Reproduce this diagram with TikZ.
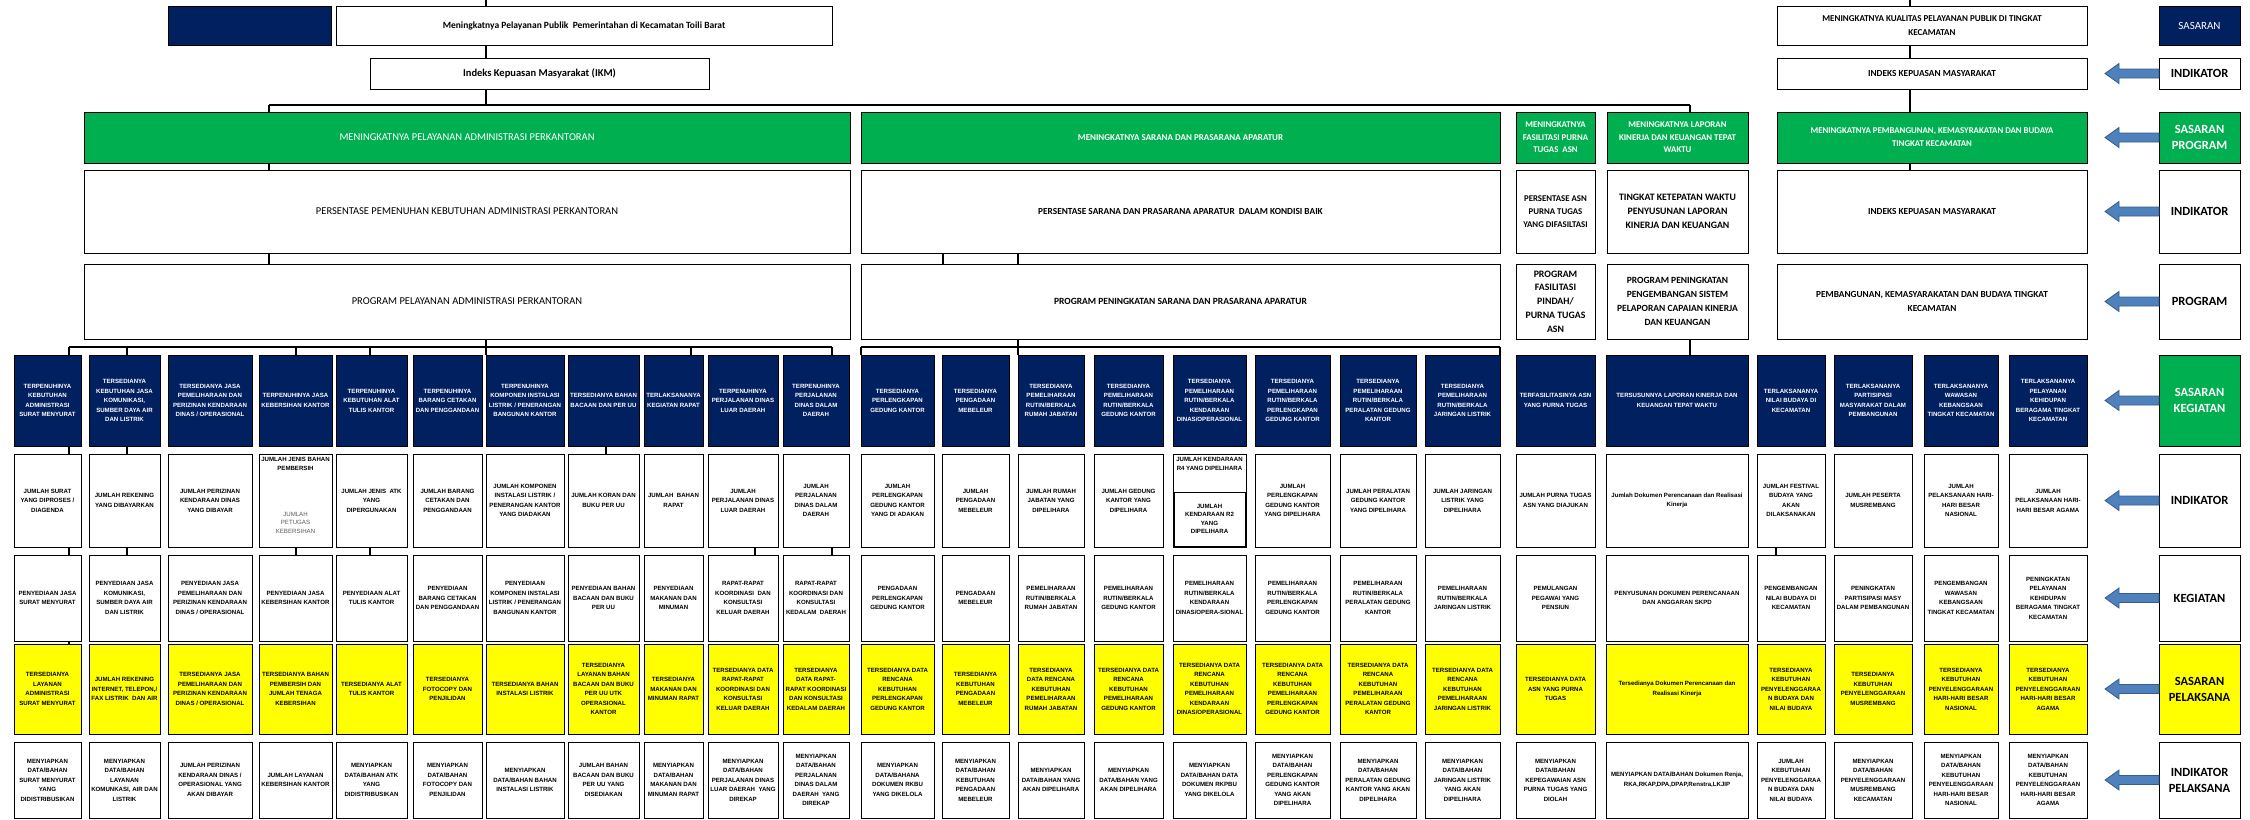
\documentclass[tikz,border=0pt]{standalone}
\usepackage{fontspec}
\setmainfont{Liberation Sans}
\newfontfamily\calf{Carlito}
\usetikzlibrary{calc}
\definecolor{navy}{HTML}{002060}
\definecolor{grn}{HTML}{00B050}
\definecolor{yel}{HTML}{FFFF00}
\definecolor{abl}{HTML}{4F81BD}
\definecolor{abd}{HTML}{385D8A}
\tikzset{
  box/.style={draw=black, line width=0.8pt, inner sep=1pt, outer sep=0pt, align=center, rectangle},
  navyb/.style={box, fill=navy, text=white},
  grnb/.style={box, fill=grn, text=white},
  yelb/.style={box, fill=yel, text=black},
  whb/.style={box, fill=white, text=black},
  lowf/.style={font=\bfseries\fontsize{6.1}{9.5}\selectfont},
  kc/.style={navyb, lowf},
  ic/.style={whb, lowf},
  yc/.style={yelb, lowf},
  legf/.style={font=\calf\bfseries\fontsize{12.5}{16}\selectfont},
  conn/.style={draw=black, line width=1.3pt},
  busst/.style={draw=black, line width=2.2pt},
  arrowst/.style={fill=abl, draw=abd, line width=0.8pt},
}
\newcommand\bx[7]{%
  \pgfmathsetmacro\bxw{#4-#2}\pgfmathsetmacro\bxh{#5-#3}%
  \pgfmathsetmacro\bxx{(#2+#4)/2}\pgfmathsetmacro\bxy{(#3+#5)/2}%
  \node[#6, minimum width=\bxw pt, minimum height=\bxh pt] (#1) at (\bxx,\bxy) {#7};}
\newcommand\defcol[3]{\expandafter\def\csname cl#1\endcsname{#2}\expandafter\def\csname cr#1\endcsname{#3}}
\newcommand\defrow[3]{\expandafter\def\csname rt#1\endcsname{#2}\expandafter\def\csname rb#1\endcsname{#3}}
\newcommand\cell[4]{\bx{#2#1}{\csname cl#1\endcsname}{\csname rt#2\endcsname}{\csname cr#1\endcsname}{\csname rb#2\endcsname}{#3}{#4}}
\newcommand\barrow[1]{\filldraw[arrowst] ([yshift=4.5pt]#1.west) -- ++(-40,0) -- ++(0,-5.5) -- ++(-14,10) -- ++(14,10) -- ++(0,-5.5) -- ([yshift=-4.5pt]#1.west) -- cycle;}
\defcol{1}{14}{81}
\defcol{2}{89}{160}
\defcol{3}{168}{252}
\defcol{4}{259}{332}
\defcol{5}{336}{407}
\defcol{6}{413}{482}
\defcol{7}{486}{564}
\defcol{8}{568}{639}
\defcol{9}{644}{703}
\defcol{10}{708}{778}
\defcol{11}{783}{849}
\defcol{12}{861}{934}
\defcol{13}{942}{1009}
\defcol{14}{1018}{1084}
\defcol{15}{1094}{1163}
\defcol{16}{1173}{1246}
\defcol{17}{1255}{1330}
\defcol{18}{1340}{1416}
\defcol{19}{1425}{1500}
\defcol{20}{1516}{1595}
\defcol{21}{1606}{1748}
\defcol{22}{1757}{1825}
\defcol{23}{1834}{1912}
\defcol{24}{1924}{1998}
\defcol{25}{2009}{2087}
\defrow{K}{355}{446}
\defrow{I}{454}{547}
\defrow{G}{555}{641}
\defrow{S}{644}{734}
\defrow{P}{742}{818}
\begin{document}
\begin{tikzpicture}[x=1pt,y=-1pt]
\useasboundingbox (0,0) rectangle (2250,819);
\fill[white] (0,0) rectangle (2250,819);
% ---------- upper part
\bx{tNavy}{168}{6}{331}{45}{navyb}{}
\bx{tA}{336}{6}{832}{45}{whb,font=\calf\bfseries\fontsize{9.5}{12}\selectfont}{Meningkatnya Pelayanan Publik\ \ Pemerintahan di Kecamatan Toili Barat}
\bx{tIKM}{370}{58}{709}{89}{whb,font=\calf\bfseries\fontsize{10.5}{13}\selectfont}{Indeks Kepuasan Masyarakat (IKM)}
\bx{gA}{84}{112}{850}{163}{grnb,font=\calf\fontsize{10.5}{13}\selectfont}{MENINGKATNYA PELAYANAN ADMINISTRASI PERKANTORAN}
\bx{pA}{84}{170}{850}{253}{whb,font=\calf\fontsize{10.5}{13}\selectfont}{PERSENTASE PEMENUHAN KEBUTUHAN ADMINISTRASI PERKANTORAN}
\bx{qA}{84}{264}{850}{339}{whb,font=\calf\fontsize{10.5}{13}\selectfont}{PROGRAM PELAYANAN ADMINISTRASI PERKANTORAN}
\bx{gB}{861}{112}{1500}{163}{grnb,font=\calf\bfseries\fontsize{9}{13}\selectfont}{MENINGKATNYA SARANA DAN PRASARANA APARATUR}
\bx{pB}{861}{170}{1500}{253}{whb,font=\calf\bfseries\fontsize{9.3}{13}\selectfont}{PERSENTASE SARANA DAN PRASARANA APARATUR\ \ DALAM KONDISI BAIK}
\bx{qB}{861}{264}{1500}{339}{whb,font=\calf\bfseries\fontsize{9.5}{13}\selectfont}{PROGRAM PENINGKATAN SARANA DAN PRASARANA APARATUR}
\bx{gC}{1516}{112}{1595}{163}{grnb,font=\calf\bfseries\fontsize{8.8}{12.5}\selectfont}{MENINGKATNYA\\FASILITASI PURNA\\TUGAS\ \ ASN}
\bx{gD}{1607}{112}{1748}{163}{grnb,font=\calf\bfseries\fontsize{8.8}{12.5}\selectfont}{MENINGKATNYA LAPORAN\\KINERJA DAN KEUANGAN TEPAT\\WAKTU}
\bx{pC}{1516}{170}{1595}{253}{whb,font=\calf\bfseries\fontsize{8.8}{13}\selectfont}{PERSENTASE ASN\\PURNA TUGAS\\YANG DIFASILTASI}
\bx{pD}{1607}{170}{1748}{253}{whb,font=\calf\bfseries\fontsize{9.8}{14}\selectfont}{TINGKAT KETEPATAN WAKTU\\PENYUSUNAN LAPORAN\\KINERJA DAN KEUANGAN}
\bx{qC}{1516}{264}{1595}{339}{whb,font=\calf\bfseries\fontsize{9.8}{13.8}\selectfont}{PROGRAM\\FASILITASI\\PINDAH/\\PURNA TUGAS\\ASN}
\bx{qD}{1607}{264}{1748}{339}{whb,font=\calf\bfseries\fontsize{9.5}{13.8}\selectfont}{PROGRAM PENINGKATAN\\PENGEMBANGAN SISTEM\\PELAPORAN CAPAIAN KINERJA\\DAN KEUANGAN}
\bx{rT}{1777}{6}{2087}{45}{whb,font=\calf\bfseries\fontsize{9}{14}\selectfont}{MENINGKATNYA KUALITAS PELAYANAN PUBLIK DI TINGKAT\\KECAMATAN}
\bx{rI}{1777}{58}{2087}{89}{whb,font=\calf\bfseries\fontsize{9.3}{13}\selectfont}{INDEKS KEPUASAN MASYARAKAT}
\bx{gE}{1777}{112}{2087}{163}{grnb,font=\calf\bfseries\fontsize{8.8}{13}\selectfont}{MENINGKATNYA PEMBANGUNAN, KEMASYRAKATAN DAN BUDAYA\\TINGKAT KECAMATAN}
\bx{pE}{1777}{170}{2087}{253}{whb,font=\calf\bfseries\fontsize{9.3}{13}\selectfont}{INDEKS KEPUASAN MASYARAKAT}
\bx{qE}{1777}{264}{2087}{339}{whb,font=\calf\bfseries\fontsize{9.3}{14}\selectfont}{PEMBANGUNAN, KEMASYARAKATAN DAN BUDAYA TINGKAT\\KECAMATAN}
% ---------- legend
\bx{lg0}{2159}{6}{2240}{45}{navyb,font=\calf\fontsize{11}{13}\selectfont}{SASARAN}
\bx{lg1}{2159}{58}{2240}{89}{whb,legf}{INDIKATOR}
\bx{lg2}{2159}{112}{2240}{163}{grnb,legf}{SASARAN\\PROGRAM}
\bx{lg3}{2159}{170}{2240}{253}{whb,legf}{INDIKATOR}
\bx{lg4}{2159}{264}{2240}{339}{whb,legf}{PROGRAM}
\bx{lg5}{2159}{355}{2240}{446}{grnb,legf}{SASARAN\\KEGIATAN}
\bx{lg6}{2159}{454}{2240}{547}{whb,legf}{INDIKATOR}
\bx{lg7}{2159}{555}{2240}{641}{whb,legf}{KEGIATAN}
\bx{lg8}{2159}{644}{2240}{734}{yelb,legf}{SASARAN\\PELAKSANA}
\bx{lg9}{2159}{742}{2240}{818}{whb,legf}{INDIKATOR\\PELAKSANA}
\foreach \n in {lg1,lg2,lg3,lg4,lg5,lg6,lg7,lg8,lg9} {\barrow{\n}}
% ---------- row K
\cell{1}{K}{kc}{TERPENUHINYA\\KEBUTUHAN\\ADMINISTRASI\\SURAT MENYURAT}
\cell{2}{K}{kc}{TERSEDIANYA\\KEBUTUHAN JASA\\KOMUNIKASI,\\SUMBER DAYA AIR\\DAN LISTRIK}
\cell{3}{K}{kc}{TERSEDIANYA JASA\\PEMELIHARAAN DAN\\PERIZINAN KENDARAAN\\DINAS / OPERASIONAL}
\cell{4}{K}{kc}{TERPENUHINYA JASA\\KEBERSIHAN KANTOR}
\cell{5}{K}{kc}{TERPENUHINYA\\KEBUTUHAN ALAT\\TULIS KANTOR}
\cell{6}{K}{kc}{TERPENUHINYA\\BARANG CETAKAN\\DAN PENGGANDAAN}
\cell{7}{K}{kc}{TERPENUHINYA\\KOMPONEN INSTALASI\\LISTRIK / PENERANGAN\\BANGUNAN KANTOR}
\cell{8}{K}{kc}{TERSEDIANYA BAHAN\\BACAAN DAN PER UU}
\cell{9}{K}{kc}{TERLAKSANANYA\\KEGIATAN RAPAT}
\cell{10}{K}{kc}{TERPENUHINYA\\PERJALANAN DINAS\\LUAR DAERAH}
\cell{11}{K}{kc}{TERPENUHINYA\\PERJALANAN\\DINAS DALAM\\DAERAH}
\cell{12}{K}{kc}{TERSEDIANYA\\PERLENGKAPAN\\GEDUNG KANTOR}
\cell{13}{K}{kc}{TERSEDIANYA\\PENGADAAN\\MEBELEUR}
\cell{14}{K}{kc}{TERSEDIANYA\\PEMELIHARAAN\\RUTIN/BERKALA\\RUMAH JABATAN}
\cell{15}{K}{kc}{TERSEDIANYA\\PEMELIHARAAN\\RUTIN/BERKALA\\GEDUNG KANTOR}
\cell{16}{K}{kc}{TERSEDIANYA\\PEMELIHARAAN\\RUTIN/BERKALA\\KENDARAAN\\DINAS/OPERASIONAL}
\cell{17}{K}{kc}{TERSEDIANYA\\PEMELIHARAAN\\RUTIN/BERKALA\\PERLENGKAPAN\\GEDUNG KANTOR}
\cell{18}{K}{kc}{TERSEDIANYA\\PEMELIHARAAN\\RUTIN/BERKALA\\PERALATAN GEDUNG\\KANTOR}
\cell{19}{K}{kc}{TERSEDIANYA\\PEMELIHARAAN\\RUTIN/BERKALA\\JARINGAN LISTRIK}
\cell{20}{K}{kc}{TERFASILITASINYA ASN\\YANG PURNA TUGAS}
\cell{21}{K}{kc}{TERSUSUNNYA LAPORAN KINERJA DAN\\KEUANGAN TEPAT WAKTU}
\cell{22}{K}{kc}{TERLAKSANANYA\\NILAI BUDAYA DI\\KECAMATAN}
\cell{23}{K}{kc}{TERLAKSANANYA\\PARTISIPASI\\MASYARAKAT DALAM\\PEMBANGUNAN}
\cell{24}{K}{kc}{TERLAKSANANYA\\WAWASAN\\KEBANGSAAN\\TINGKAT KECAMATAN}
\cell{25}{K}{kc}{TERLAKSANANYA\\PELAYANAN\\KEHIDUPAN\\BERAGAMA TINGKAT\\KECAMATAN}
% ---------- row I
\cell{1}{I}{ic}{JUMLAH SURAT\\YANG DIPROSES /\\DIAGENDA}
\cell{2}{I}{ic}{JUMLAH REKENING\\YANG DIBAYARKAN}
\cell{3}{I}{ic}{JUMLAH PERIZINAN\\KENDARAAN DINAS\\YANG DIBAYAR}
\cell{4}{I}{ic}{}
\node[lowf, align=center, anchor=north, inner sep=0pt] (I4a) at ([yshift=-3pt]I4.north) {JUMLAH JENIS BAHAN\\PEMBERSIH};
\node[font=\fontsize{6.1}{8.5}\selectfont, text=black!65, align=center, inner sep=0pt] (I4b) at ([yshift=-22pt]I4.center) {JUMLAH\\PETUGAS\\KEBERSIHAN};
\cell{5}{I}{ic}{JUMLAH JENIS\ \ ATK\\YANG\\DIPERGUNAKAN}
\cell{6}{I}{ic}{JUMLAH BARANG\\CETAKAN DAN\\PENGGANDAAN}
\cell{7}{I}{ic}{JUMLAH KOMPONEN\\INSTALASI LISTRIK /\\PENERANGAN KANTOR\\YANG DIADAKAN}
\cell{8}{I}{ic}{JUMLAH KORAN DAN\\BUKU PER UU}
\cell{9}{I}{ic}{JUMLAH\ \ BAHAN\\RAPAT}
\cell{10}{I}{ic}{JUMLAH\\PERJALANAN DINAS\\LUAR DAERAH}
\cell{11}{I}{ic}{JUMLAH\\PERJALANAN\\DINAS DALAM\\DAERAH}
\cell{12}{I}{ic}{JUMLAH\\PERLENGKAPAN\\GEDUNG KANTOR\\YANG DI ADAKAN}
\cell{13}{I}{ic}{JUMLAH\\PENGADAAN\\MEBELEUR}
\cell{14}{I}{ic}{JUMLAH RUMAH\\JABATAN YANG\\DIPELIHARA}
\cell{15}{I}{ic}{JUMLAH GEDUNG\\KANTOR YANG\\DIPELIHARA}
\cell{16}{I}{ic}{}
\node[lowf, align=center, anchor=north, inner sep=0pt] (I16a) at ([yshift=-3pt]I16.north) {JUMLAH KENDARAAN\\R4 YANG DIPELIHARA};
\bx{I16b}{1174}{492}{1245}{546}{whb,font=\bfseries\fontsize{6.1}{8.5}\selectfont}{JUMLAH\\KENDARAAN R2\\YANG\\DIPELIHARA}
\cell{17}{I}{ic}{JUMLAH\\PERLENGKAPAN\\GEDUNG KANTOR\\YANG DIPELIHARA}
\cell{18}{I}{ic}{JUMLAH PERALATAN\\GEDUNG KANTOR\\YANG DIPELIHARA}
\cell{19}{I}{ic}{JUMLAH JARINGAN\\LISTRIK YANG\\DIPELIHARA}
\cell{20}{I}{ic}{JUMLAH PURNA TUGAS\\ASN YANG DIAJUKAN}
\cell{21}{I}{ic}{Jumlah Dokumen Perencanaan dan Realisasi\\Kinerja}
\cell{22}{I}{ic}{JUMLAH FESTIVAL\\BUDAYA YANG\\AKAN\\DILAKSANAKAN}
\cell{23}{I}{ic}{JUMLAH PESERTA\\MUSREMBANG}
\cell{24}{I}{ic}{JUMLAH\\PELAKSANAAN HARI-\\HARI BESAR\\NASIONAL}
\cell{25}{I}{ic}{JUMLAH\\PELAKSANAAN HARI-\\HARI BESAR AGAMA}
% ---------- row G (kegiatan)
\cell{1}{G}{ic}{PENYEDIAAN JASA\\SURAT MENYURAT}
\cell{2}{G}{ic}{PENYEDIAAN JASA\\KOMUNIKASI,\\SUMBER DAYA AIR\\DAN LISTRIK}
\cell{3}{G}{ic}{PENYEDIAAN JASA\\PEMELIHARAAN DAN\\PERIZINAN KENDARAAN\\DINAS / OPERASIONAL}
\cell{4}{G}{ic}{PENYEDIAAN JASA\\KEBERSIHAN KANTOR}
\cell{5}{G}{ic}{PENYEDIAAN ALAT\\TULIS KANTOR}
\cell{6}{G}{ic}{PENYEDIAAN\\BARANG CETAKAN\\DAN PENGGANDAAN}
\cell{7}{G}{ic}{PENYEDIAAN\\KOMPONEN INSTALASI\\LISTRIK / PENERANGAN\\BANGUNAN KANTOR}
\cell{8}{G}{ic}{PENYEDIAAN BAHAN\\BACAAN DAN BUKU\\PER UU}
\cell{9}{G}{ic}{PENYEDIAAN\\MAKANAN DAN\\MINUMAN}
\cell{10}{G}{ic}{RAPAT-RAPAT\\KOORDINASI\ \ DAN\\KONSULTASI\\KELUAR DAERAH}
\cell{11}{G}{ic}{RAPAT-RAPAT\\KOORDINASI DAN\\KONSULTASI\\KEDALAM\ \ DAERAH}
\cell{12}{G}{ic}{PENGADAAN\\PERLENGKAPAN\\GEDUNG KANTOR}
\cell{13}{G}{ic}{PENGADAAN\\MEBELEUR}
\cell{14}{G}{ic}{PEMELIHARAAN\\RUTIN/BERKALA\\RUMAH JABATAN}
\cell{15}{G}{ic}{PEMELIHARAAN\\RUTIN/BERKALA\\GEDUNG KANTOR}
\cell{16}{G}{ic}{PEMELIHARAAN\\RUTIN/BERKALA\\KENDARAAN\\DINAS/OPERA-SIONAL}
\cell{17}{G}{ic}{PEMELIHARAAN\\RUTIN/BERKALA\\PERLENGKAPAN\\GEDUNG KANTOR}
\cell{18}{G}{ic}{PEMELIHARAAN\\RUTIN/BERKALA\\PERALATAN GEDUNG\\KANTOR}
\cell{19}{G}{ic}{PEMELIHARAAN\\RUTIN/BERKALA\\JARINGAN LISTRIK}
\cell{20}{G}{ic}{PEMULANGAN\\PEGAWAI YANG\\PENSIUN}
\cell{21}{G}{ic}{PENYUSUNAN DOKUMEN PERENCANAAN\\DAN ANGGARAN SKPD}
\cell{22}{G}{ic}{PENGEMBANGAN\\NILAI BUDAYA DI\\KECAMATAN}
\cell{23}{G}{ic}{PENINGKATAN\\PARTISIPASI MASY\\DALAM PEMBANGUNAN}
\cell{24}{G}{ic}{PENGEMBANGAN\\WAWASAN\\KEBANGSAAN\\TINGKAT KECAMATAN}
\cell{25}{G}{ic}{PENINGKATAN\\PELAYANAN\\KEHIDUPAN\\BERAGAMA TINGKAT\\KECAMATAN}
% ---------- row S (sasaran pelaksana)
\cell{1}{S}{yc}{TERSEDIANYA\\LAYANAN\\ADMINISTRASI\\SURAT MENYURAT}
\cell{2}{S}{yc}{JUMLAH REKENING\\INTERNET, TELEPON,/\\FAX LISTRIK\ \ DAN AIR}
\cell{3}{S}{yc}{TERSEDIANYA JASA\\PEMELIHARAAN DAN\\PERIZINAN KENDARAAN\\DINAS / OPERASIONAL}
\cell{4}{S}{yc}{TERSEDIANYA BAHAN\\PEMBERSIH DAN\\JUMLAH TENAGA\\KEBERSIHAN}
\cell{5}{S}{yc}{TERSEDIANYA ALAT\\TULIS KANTOR}
\cell{6}{S}{yc}{TERSEDIANYA\\FOTOCOPY DAN\\PENJILIDAN}
\cell{7}{S}{yc}{TERSEDIANYA BAHAN\\INSTALASI LISTRIK}
\cell{8}{S}{yc}{TERSEDIANYA\\LAYANAN BAHAN\\BACAAN DAN BUKU\\PER UU UTK\\OPERASIONAL\\KANTOR}
\cell{9}{S}{yc}{TERSEDIANYA\\MAKANAN DAN\\MINUMAN RAPAT}
\cell{10}{S}{yc}{TERSEDIANYA DATA\\RAPAT-RAPAT\\KOORDINASI DAN\\KONSULTASI\\KELUAR DAERAH}
\cell{11}{S}{yc}{TERSEDIANYA\\DATA RAPAT-\\RAPAT KOORDINASI\\DAN KONSULTASI\\KEDALAM DAERAH}
\cell{12}{S}{yc}{TERSEDIANYA DATA\\RENCANA\\KEBUTUHAN\\PERLENGKAPAN\\GEDUNG KANTOR}
\cell{13}{S}{yc}{TERSEDIANYA\\KEBUTUHAN\\PENGADAAN\\MEBELEUR}
\cell{14}{S}{yc}{TERSEDIANYA\\DATA RENCANA\\KEBUTUHAN\\PEMELIHARAAN\\RUMAH JABATAN}
\cell{15}{S}{yc}{TERSEDIANYA DATA\\RENCANA\\KEBUTUHAN\\PEMELIHARAAN\\GEDUNG KANTOR}
\cell{16}{S}{yc}{TERSEDIANYA DATA\\RENCANA\\KEBUTUHAN\\PEMELIHARAAN\\KENDARAAN\\DINAS/OPERASIONAL}
\cell{17}{S}{yc}{TERSEDIANYA DATA\\RENCANA\\KEBUTUHAN\\PEMELIHARAAN\\PERLENGKAPAN\\GEDUNG KANTOR}
\cell{18}{S}{yc}{TERSEDIANYA DATA\\RENCANA\\KEBUTUHAN\\PEMELIHARAAN\\PERALATAN GEDUNG\\KANTOR}
\cell{19}{S}{yc}{TERSEDIANYA DATA\\RENCANA\\KEBUTUHAN\\PEMELIHARAAN\\JARINGAN LISTRIK}
\cell{20}{S}{yc}{TERSEDIANYA DATA\\ASN YANG PURNA\\TUGAS}
\cell{21}{S}{yc}{Tersedianya Dokumen Perencanaan dan\\Realisasi Kinerja}
\cell{22}{S}{yc}{TERSEDIANYA\\KEBUTUHAN\\PENYELENGGARAA\\N BUDAYA DAN\\NILAI BUDAYA}
\cell{23}{S}{yc}{TERSEDIANYA\\KEBUTUHAN\\PENYELENGGARAAN\\MUSREMBANG}
\cell{24}{S}{yc}{TERSEDIANYA\\KEBUTUHAN\\PENYELENGGARAAN\\HARI-HARI BESAR\\NASIONAL}
\cell{25}{S}{yc}{TERSEDIANYA\\KEBUTUHAN\\PENYELENGGARAAN\\HARI-HARI BESAR\\AGAMA}
% ---------- row P (indikator pelaksana)
\cell{1}{P}{ic}{MENYIAPKAN\\DATA/BAHAN\\SURAT MENYURAT\\YANG\\DIDISTRIBUSIKAN}
\cell{2}{P}{ic}{MENYIAPKAN\\DATA/BAHAN\\LAYANAN\\KOMUNKASI, AIR DAN\\LISTRIK}
\cell{3}{P}{ic}{JUMLAH PERIZINAN\\KENDARAAN DINAS /\\OPERASIONAL YANG\\AKAN DIBAYAR}
\cell{4}{P}{ic}{JUMLAH LAYANAN\\KEBERSIHAN KANTOR}
\cell{5}{P}{ic}{MENYIAPKAN\\DATA/BAHAN ATK\\YANG\\DIDISTRIBUSIKAN}
\cell{6}{P}{ic}{MENYIAPKAN\\DATA/BAHAN\\FOTOCOPY DAN\\PENJILIDAN}
\cell{7}{P}{ic}{MENYIAPKAN\\DATA/BAHAN BAHAN\\INSTALASI LISTRIK}
\cell{8}{P}{ic}{JUMLAH BAHAN\\BACAAN DAN BUKU\\PER UU YANG\\DISEDIAKAN}
\cell{9}{P}{ic}{MENYIAPKAN\\DATA/BAHAN\\MAKANAN DAN\\MINUMAN RAPAT}
\cell{10}{P}{ic}{MENYIAPKAN\\DATA/BAHAN\\PERJALANAN DINAS\\LUAR DAERAH\ \ YANG\\DIREKAP}
\cell{11}{P}{ic}{MENYIAPKAN\\DATA/BAHAN\\PERJALANAN\\DINAS DALAM\\DAERAH\ \ YANG\\DIREKAP}
\cell{12}{P}{ic}{MENYIAPKAN\\DATA/BAHANA\\DOKUMEN RKBU\\YANG DIKELOLA}
\cell{13}{P}{ic}{MENYIAPKAN\\DATA/BAHAN\\KEBUTUHAN\\PENGADAAN\\MEBELEUR}
\cell{14}{P}{ic}{MENYIAPKAN\\DATA/BAHAN YANG\\AKAN DIPELIHARA}
\cell{15}{P}{ic}{MENYIAPKAN\\DATA/BAHAN YANG\\AKAN DIPELIHARA}
\cell{16}{P}{ic}{MENYIAPKAN\\DATA/BAHAN DATA\\DOKUMEN RKPBU\\YANG DIKELOLA}
\cell{17}{P}{ic}{MENYIAPKAN\\DATA/BAHAN\\PERLENGKAPAN\\GEDUNG KANTOR\\YANG AKAN\\DIPELIHARA}
\cell{18}{P}{ic}{MENYIAPKAN\\DATA/BAHAN\\PERALATAN GEDUNG\\KANTOR YANG AKAN\\DIPELIHARA}
\cell{19}{P}{ic}{MENYIAPKAN\\DATA/BAHAN\\JARINGAN LISTRIK\\YANG AKAN\\DIPELIHARA}
\cell{20}{P}{ic}{MENYIAPKAN\\DATA/BAHAN\\KEPEGAWAIAN ASN\\PURNA TUGAS YANG\\DIOLAH}
\cell{21}{P}{ic}{MENYIAPKAN DATA/BAHAN Dokumen Renja,\\RKA,RKAP,DPA,DPAP,Renstra,LKJIP}
\cell{22}{P}{ic}{JUMLAH\\KEBUTUHAN\\PENYELENGGARAA\\N BUDAYA DAN\\NILAI BUDAYA}
\cell{23}{P}{ic}{MENYIAPKAN\\DATA/BAHAN\\PENYELENGGARAAN\\MUSREMBANG\\KECAMATAN}
\cell{24}{P}{ic}{MENYIAPKAN\\DATA/BAHAN\\KEBUTUHAN\\PENYELENGGARAAN\\HARI-HARI BESAR\\NASIONAL}
\cell{25}{P}{ic}{MENYIAPKAN\\DATA/BAHAN\\KEBUTUHAN\\PENYELENGGARAAN\\HARI-HARI BESAR\\AGAMA}
% ---------- connectors, upper part
\coordinate (sp1) at (486,0);
\coordinate (sp2) at (1910,0);
\coordinate (busL) at (269,105);
\coordinate (busR) at (1690,105);
\coordinate (mB1) at (943,0);
\coordinate (mB2) at (1018,0);
\draw[conn] (sp1) -- (sp1 |- tA.north);
\draw[conn] (tA.south -| sp1) -- (tIKM.north -| sp1);
\draw[conn] (tIKM.south -| sp1) -- (sp1 |- busL);
\draw[busst] (busL) -- (busR);
\draw[conn] (busL) -- (busL |- gA.north);
\draw[conn] (busR) -- (busR |- gD.north);
\draw[conn] (gA.south -| busL) -- (pA.north -| busL);
\draw[conn] (pA.south -| busL) -- (qA.north -| busL);
\draw[conn] (pB.south -| mB1) -- (qB.north -| mB1);
\draw[conn] (pB.south -| mB2) -- (qB.north -| mB2);
\draw[conn] (sp2) -- (sp2 |- rT.north);
\draw[conn] (rT.south -| sp2) -- (rI.north -| sp2);
\draw[conn] (rI.south -| sp2) -- (gE.north -| sp2);
\draw[conn] (gE.south -| sp2) -- (pE.north -| sp2);
\draw[conn] (qD.south -| busR) -- (K21.north -| busR);
% ---------- connectors, lower part
\coordinate (lb1) at (69,347);
\coordinate (lb2) at (832,347);
\coordinate (mb1) at (861,347);
\coordinate (mb2) at (1500,347);
\draw[conn] (lb1) -- (lb2);
\draw[conn] (mb1) -- (mb2);
\draw[conn] (qA.south -| sp1) -- (K7.north -| sp1);
\draw[conn] (qB.south -| mB2) -- (K14.north -| mB2);
\foreach \c/\x in {1/69,2/127,4/296,5/370,10/691,11/832,12/861,19/1500} {
  \path (\x,347) coordinate (d);
  \draw[conn] (d) -- (d |- K\c.north);
}
\foreach \c/\x/\a/\b in {1/69/K/I,1/69/I/G,1/69/G/S,2/127/K/I,2/127/I/G,4/296/I/G,5/370/I/G,8/606/K/I,10/755/I/G,11/832/I/G,22/1776/I/G} {
  \path (\x,0) coordinate (d);
  \draw[conn] (\a\c.south -| d) -- (\b\c.north -| d);
}
\end{tikzpicture}
\end{document}
